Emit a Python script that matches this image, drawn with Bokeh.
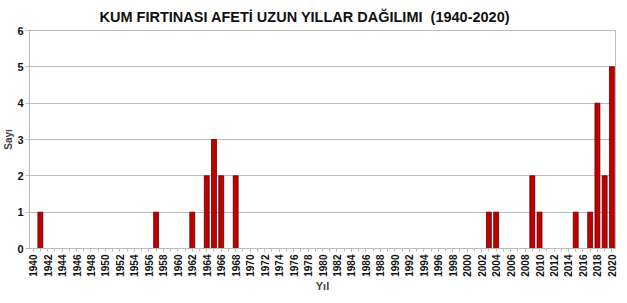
from bokeh.plotting import figure
from bokeh.models import FixedTicker, Range1d
from bokeh.embed import file_html
from bokeh.resources import INLINE
import math

years = [1941, 1957, 1962, 1964, 1965, 1966, 1968, 2003, 2004, 2009, 2010, 2015, 2017, 2018, 2019, 2020]
counts = [1, 1, 1, 2, 3, 2, 2, 1, 1, 2, 1, 1, 1, 4, 2, 5]
tick_years = list(range(1940, 2021, 2))
title = "KUM FIRTINASI AFETİ UZUN YILLAR DAĞILIMI\u00a0\u00a0(1940-2020)"

FONT = "Liberation Sans"

p = figure(width=627, height=303, output_backend="svg", toolbar_location=None,
           x_range=Range1d(1939.5, 2020.5), y_range=Range1d(0, 6),
           min_border_left=20, min_border_right=12, min_border_bottom=55, min_border_top=30)

p.title.text = title
p.title.align = "left"
p.title.offset = 70
p.title.text_font = FONT
p.title.text_font_size = "14.5px"
p.title.text_font_style = "bold"
p.title.text_color = "#111111"
p.title.standoff = 11

p.vbar(x=years, top=counts, width=0.68, fill_color="#C00000", line_color="#5a0000", line_width=0.8)

p.xaxis.ticker = FixedTicker(ticks=tick_years, minor_ticks=list(range(1940, 2021)))
p.xaxis.major_label_orientation = math.pi / 2
p.xaxis.major_label_text_font = FONT
p.xaxis.major_label_text_font_size = "10px"
p.xaxis.major_label_text_font_style = "bold"
p.xaxis.major_label_text_color = "#111111"
p.xaxis.major_label_standoff = 3
p.xaxis.axis_label = "Yıl"
p.xaxis.axis_label_text_font = FONT
p.xaxis.axis_label_text_font_size = "11px"
p.xaxis.axis_label_text_font_style = "bold"
p.xaxis.axis_label_standoff = 0
p.xaxis.axis_line_color = "#bbbbbb"
p.xaxis.major_tick_line_color = "#bbbbbb"
p.xaxis.minor_tick_line_color = "#bbbbbb"
p.xaxis.major_tick_out = 3
p.xaxis.major_tick_in = 0
p.xaxis.minor_tick_out = 3
p.xaxis.minor_tick_in = 0

p.yaxis.ticker = FixedTicker(ticks=[0, 1, 2, 3, 4, 5, 6])
p.yaxis.major_label_text_font = FONT
p.yaxis.major_label_text_font_size = "11px"
p.yaxis.major_label_text_font_style = "bold"
p.yaxis.major_label_text_color = "#111111"
p.yaxis.major_label_standoff = 2
p.yaxis.axis_label = "Sayı"
p.yaxis.axis_label_text_font = FONT
p.yaxis.axis_label_text_font_size = "10px"
p.yaxis.axis_label_text_font_style = "bold"
p.yaxis.axis_label_standoff = 0
p.yaxis.axis_line_color = "#bbbbbb"
p.yaxis.major_tick_line_color = "#bbbbbb"
p.yaxis.major_tick_out = 4
p.yaxis.major_tick_in = 0
p.yaxis.minor_tick_line_color = None

p.xgrid.grid_line_color = None
p.ygrid.grid_line_color = "#bbbbbb"
p.ygrid.grid_line_width = 1
p.outline_line_color = "#bbbbbb"
p.background_fill_color = "white"
p.border_fill_color = "white"

open("out.html", "w").write(file_html(p, INLINE))
